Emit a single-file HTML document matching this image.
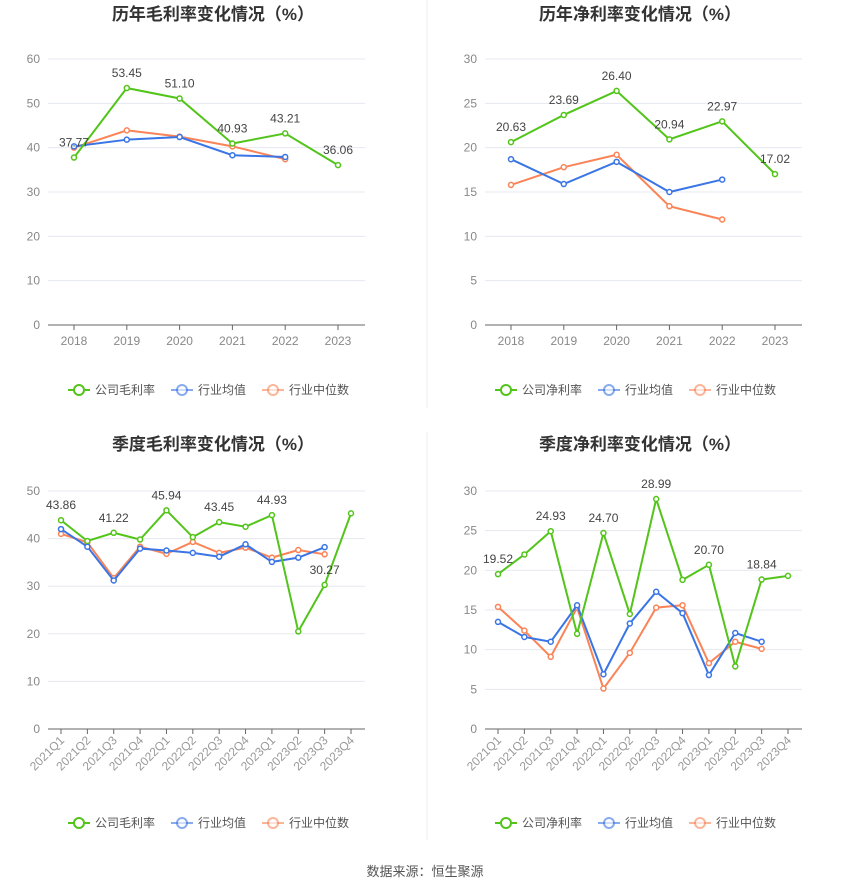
<!DOCTYPE html>
<html><head><meta charset="utf-8"><style>
body{margin:0;background:#fff;font-family:"Liberation Sans","Noto Sans CJK SC",sans-serif}
svg text{font-family:"Liberation Sans","Noto Sans CJK SC",sans-serif}
</style></head><body>
<svg id="s" width="850" height="891" xmlns="http://www.w3.org/2000/svg">
<line x1="427" y1="0" x2="427" y2="408" stroke="#eee"/>
<line x1="427" y1="432" x2="427" y2="840" stroke="#eee"/>
<text x="425" y="876" text-anchor="middle" font-size="13" fill="#555">数据来源：恒生聚源</text>
</svg>
<script>
const yearCats=["2018","2019","2020","2021","2022","2023"];
const qCats=["2021Q1","2021Q2","2021Q3","2021Q4","2022Q1","2022Q2","2022Q3","2022Q4","2023Q1","2023Q2","2023Q3","2023Q4"];
const gmCompany=[37.77,53.45,51.10,40.93,43.21,36.06];
const gmAvg=[40.3,41.8,42.4,38.3,37.9];
const gmMedian=[40.0,43.9,42.5,40.3,37.4];
const npCompany=[20.63,23.69,26.40,20.94,22.97,17.02];
const npAvg=[18.7,15.9,18.4,15.0,16.4];
const npMedian=[15.8,17.8,19.2,13.4,11.9];
const qgmCompany=[43.86,39.5,41.22,39.8,45.94,40.3,43.45,42.5,44.93,20.5,30.27,45.3];
const qgmAvg=[42.0,38.3,31.2,37.9,37.5,37.0,36.2,38.8,35.1,36.0,38.2];
const qgmMedian=[41.0,39.2,31.7,38.3,36.8,39.3,37.0,38.1,36.0,37.6,36.7];
const qnpCompany=[19.52,22.0,24.93,12.0,24.70,14.5,28.99,18.8,20.70,7.9,18.84,19.3];
const qnpAvg=[13.5,11.6,11.0,15.6,6.9,13.3,17.3,14.6,6.8,12.1,11.0];
const qnpMedian=[15.4,12.4,9.1,15.3,5.1,9.6,15.3,15.6,8.3,11.0,10.1];
const ticks60=[0,10,20,30,40,50,60],ticks30=[0,5,10,15,20,25,30],ticks50=[0,10,20,30,40,50];
const NS="http://www.w3.org/2000/svg",svg=document.getElementById('s');
function el(t,a,p){const e=document.createElementNS(NS,t);for(const k in a)e.setAttribute(k,a[k]);(p||svg).appendChild(e);return e;}
function chart(o){
 const g=el('g',{});
 
 
 const ymax=o.ticks[o.ticks.length-1];
 const Y=v=>o.y0-(v/ymax)*(o.y0-o.y1);
 const step=(o.xl-o.xf)/(o.cats.length-1);
 const X=i=>o.xf+i*step;
 const t=el('text',{x:o.cx,y:o.ty,'text-anchor':'middle','font-size':17,'font-weight':'bold',fill:'#333'},g);t.textContent=o.title;
 
 
 o.ticks.forEach(v=>{
  if(v>0){const l=el('line',{x1:o.ax0,x2:o.ax1,y1:Y(v),y2:Y(v),stroke:'#e6e8f0'},g);
  
  }
  const tx=el('text',{x:o.ax0-8,y:Y(v)+4,'text-anchor':'end','font-size':12,fill:'#888'},g);tx.textContent=v;
  
  
 });
 const ax=el('line',{x1:o.ax0,x2:o.ax1,y1:o.y0,y2:o.y0,stroke:'#666'},g);
 
 
 o.cats.forEach((c,i)=>{
  el('line',{x1:X(i),x2:X(i),y1:o.y0,y2:o.y0+5,stroke:'#666'},g);
  let tx;
  if(o.rot){tx=el('text',{x:X(i)+4,y:o.y0+12,'text-anchor':'end','font-size':12,fill:'#999',transform:`rotate(-45 ${X(i)+4} ${o.y0+12})`},g);}
  else tx=el('text',{x:X(i),y:o.y0+20,'text-anchor':'middle','font-size':12,fill:'#888'},g);
  tx.textContent=c;
  
  
 });
 const series=[[o.med,'#fa8457','industry-median'],[o.avg,'#3a75e6','industry-average'],[o.comp,'#52c41a','company']];
 series.forEach(([d,c,n])=>{
  const p=el('polyline',{points:d.map((v,i)=>X(i)+','+Y(v)).join(' '),fill:'none',stroke:c,'stroke-width':2},g);
  
  
  d.forEach((v,i)=>{const ci=el('circle',{cx:X(i),cy:Y(v),r:2.5,fill:'#fff',stroke:c,'stroke-width':1.5},g);
   
   });
 });
 o.comp.forEach((v,i)=>{
  if(o.every && i%2) return;
  const tx=el('text',{x:X(i),y:Y(v)-11,'text-anchor':'middle','font-size':12,fill:'#444'},g);
  tx.textContent=v.toFixed(2);
  
  
 });
 const leg=[[o.l1,'#52c41a'],['行业均值','#3a75e6'],['行业中位数','#fa8457']];
 let lx=o.cx-145;
 leg.forEach(([n,c],k)=>{
  const lg=el('g',{},g);
  
  
  el('line',{x1:lx,x2:lx+22,y1:o.ly,y2:o.ly,stroke:c,'stroke-width':2,opacity:k?0.6:1},lg);
  el('circle',{cx:lx+11,cy:o.ly,r:5,fill:'#fff',stroke:c,'stroke-width':2,opacity:k?0.6:1},lg);
  const tx=el('text',{x:lx+27,y:o.ly+4,'font-size':12,fill:'#555'},lg);tx.textContent=n;
  lx+=27+n.length*12+16;
 });
}
chart({name:'annual-gross-margin-chart',title:'历年毛利率变化情况（%）',cx:213,ty:20,cats:yearCats,ticks:ticks60,y0:325,y1:59,xf:74,xl:338,ax0:48,ax1:365,comp:gmCompany,avg:gmAvg,med:gmMedian,l1:'公司毛利率',ly:390});
chart({name:'annual-net-margin-chart',title:'历年净利率变化情况（%）',cx:640,ty:20,cats:yearCats,ticks:ticks30,y0:325,y1:59,xf:511,xl:775,ax0:485,ax1:802,comp:npCompany,avg:npAvg,med:npMedian,l1:'公司净利率',ly:390});
chart({name:'quarterly-gross-margin-chart',title:'季度毛利率变化情况（%）',cx:213,ty:450,cats:qCats,ticks:ticks50,y0:729,y1:491,xf:61,xl:351,ax0:48,ax1:365,comp:qgmCompany,avg:qgmAvg,med:qgmMedian,l1:'公司毛利率',ly:823,rot:1,every:1});
chart({name:'quarterly-net-margin-chart',title:'季度净利率变化情况（%）',cx:640,ty:450,cats:qCats,ticks:ticks30,y0:729,y1:491,xf:498,xl:788,ax0:485,ax1:802,comp:qnpCompany,avg:qnpAvg,med:qnpMedian,l1:'公司净利率',ly:823,rot:1,every:1});
</script>
</body></html>
